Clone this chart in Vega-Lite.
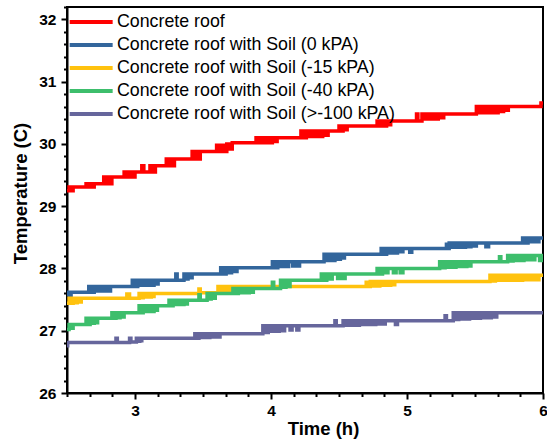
{
"$schema": "https://vega.github.io/schema/vega-lite/v6.json",
"width": 476, "height": 386,
"autosize": {"type": "none"},
"padding": {"left": 67, "top": 7, "right": 4, "bottom": 46},
"background": "white",
"config": {"view": {"stroke": "black", "strokeWidth": 2}, "font": "Liberation Sans"},
"data": {"values": [
{"s":"a","t":2.5,"v":29.25},{"s":"a","t":2.515,"v":29.31},{"s":"a","t":2.53,"v":29.25},{"s":"a","t":2.545,"v":29.31},
{"s":"a","t":2.64,"v":29.36},{"s":"a","t":2.655,"v":29.31},{"s":"a","t":2.67,"v":29.36},{"s":"a","t":2.685,"v":29.31},{"s":"a","t":2.7,"v":29.36},
{"s":"a","t":2.77,"v":29.47},{"s":"a","t":2.785,"v":29.36},{"s":"a","t":2.8,"v":29.47},{"s":"a","t":2.815,"v":29.36},{"s":"a","t":2.83,"v":29.47},
{"s":"a","t":2.92,"v":29.55},{"s":"a","t":2.94,"v":29.47},{"s":"a","t":2.96,"v":29.55},{"s":"a","t":2.98,"v":29.47},{"s":"a","t":3.0,"v":29.55},
{"s":"a","t":3.05,"v":29.65},{"s":"a","t":3.065,"v":29.55},{"s":"a","t":3.11,"v":29.65},{"s":"a","t":3.13,"v":29.55},{"s":"a","t":3.15,"v":29.65},
{"s":"a","t":3.23,"v":29.76},{"s":"a","t":3.245,"v":29.65},{"s":"a","t":3.26,"v":29.76},{"s":"a","t":3.275,"v":29.65},{"s":"a","t":3.29,"v":29.76},
{"s":"a","t":3.42,"v":29.88},{"s":"a","t":3.435,"v":29.76},{"s":"a","t":3.45,"v":29.88},{"s":"a","t":3.465,"v":29.76},{"s":"a","t":3.48,"v":29.88},
{"s":"a","t":3.6,"v":29.98},{"s":"a","t":3.615,"v":29.88},{"s":"a","t":3.635,"v":29.98},{"s":"a","t":3.655,"v":29.88},{"s":"a","t":3.675,"v":30.0},{"s":"a","t":3.695,"v":29.92},{"s":"a","t":3.715,"v":30.02},
{"s":"a","t":3.89,"v":30.1},{"s":"a","t":3.91,"v":30.02},{"s":"a","t":3.93,"v":30.1},{"s":"a","t":3.95,"v":30.02},{"s":"a","t":3.97,"v":30.1},{"s":"a","t":3.99,"v":30.02},{"s":"a","t":4.01,"v":30.1},{"s":"a","t":4.03,"v":30.04},{"s":"a","t":4.045,"v":30.1},
{"s":"a","t":4.22,"v":30.21},{"s":"a","t":4.24,"v":30.1},{"s":"a","t":4.26,"v":30.21},{"s":"a","t":4.28,"v":30.12},{"s":"a","t":4.3,"v":30.21},{"s":"a","t":4.32,"v":30.12},{"s":"a","t":4.34,"v":30.21},{"s":"a","t":4.36,"v":30.12},{"s":"a","t":4.38,"v":30.21},{"s":"a","t":4.4,"v":30.14},{"s":"a","t":4.42,"v":30.21},
{"s":"a","t":4.5,"v":30.29},{"s":"a","t":4.515,"v":30.21},{"s":"a","t":4.53,"v":30.29},{"s":"a","t":4.545,"v":30.23},{"s":"a","t":4.56,"v":30.29},
{"s":"a","t":4.78,"v":30.37},{"s":"a","t":4.795,"v":30.29},{"s":"a","t":4.81,"v":30.37},{"s":"a","t":4.83,"v":30.29},{"s":"a","t":4.85,"v":30.37},{"s":"a","t":4.865,"v":30.31},{"s":"a","t":4.88,"v":30.37},
{"s":"a","t":5.07,"v":30.48},{"s":"a","t":5.08,"v":30.37},{"s":"a","t":5.11,"v":30.48},{"s":"a","t":5.13,"v":30.4},{"s":"a","t":5.15,"v":30.48},{"s":"a","t":5.17,"v":30.4},{"s":"a","t":5.19,"v":30.48},{"s":"a","t":5.21,"v":30.4},{"s":"a","t":5.23,"v":30.48},{"s":"a","t":5.25,"v":30.42},{"s":"a","t":5.27,"v":30.48},
{"s":"a","t":5.51,"v":30.6},{"s":"a","t":5.53,"v":30.5},{"s":"a","t":5.55,"v":30.6},{"s":"a","t":5.57,"v":30.5},{"s":"a","t":5.59,"v":30.6},{"s":"a","t":5.61,"v":30.5},{"s":"a","t":5.63,"v":30.6},{"s":"a","t":5.65,"v":30.5},{"s":"a","t":5.67,"v":30.6},{"s":"a","t":5.69,"v":30.52},{"s":"a","t":5.71,"v":30.6},{"s":"a","t":5.73,"v":30.54},{"s":"a","t":5.745,"v":30.6},{"s":"a","t":5.985,"v":30.66},{"s":"a","t":6.0,"v":30.66},

{"s":"b","t":2.5,"v":27.58},{"s":"b","t":2.51,"v":27.62},{"s":"b","t":2.52,"v":27.56},{"s":"b","t":2.53,"v":27.62},
{"s":"b","t":2.66,"v":27.71},{"s":"b","t":2.68,"v":27.62},{"s":"b","t":2.7,"v":27.71},{"s":"b","t":2.72,"v":27.64},{"s":"b","t":2.74,"v":27.71},{"s":"b","t":2.76,"v":27.64},{"s":"b","t":2.78,"v":27.71},{"s":"b","t":2.8,"v":27.64},{"s":"b","t":2.82,"v":27.71},
{"s":"b","t":2.98,"v":27.81},{"s":"b","t":3.0,"v":27.71},{"s":"b","t":3.02,"v":27.81},{"s":"b","t":3.04,"v":27.73},{"s":"b","t":3.06,"v":27.81},{"s":"b","t":3.08,"v":27.73},{"s":"b","t":3.1,"v":27.81},{"s":"b","t":3.12,"v":27.73},{"s":"b","t":3.14,"v":27.81},{"s":"b","t":3.16,"v":27.75},{"s":"b","t":3.17,"v":27.81},
{"s":"b","t":3.3,"v":27.91},{"s":"b","t":3.31,"v":27.81},{"s":"b","t":3.36,"v":27.91},{"s":"b","t":3.375,"v":27.83},{"s":"b","t":3.39,"v":27.91},{"s":"b","t":3.405,"v":27.85},{"s":"b","t":3.42,"v":27.91},
{"s":"b","t":3.63,"v":28.01},{"s":"b","t":3.65,"v":27.91},{"s":"b","t":3.67,"v":28.01},{"s":"b","t":3.69,"v":27.93},{"s":"b","t":3.71,"v":28.01},{"s":"b","t":3.73,"v":27.95},{"s":"b","t":3.75,"v":28.01},
{"s":"b","t":4.01,"v":28.11},{"s":"b","t":4.03,"v":28.01},{"s":"b","t":4.05,"v":28.11},{"s":"b","t":4.07,"v":28.03},{"s":"b","t":4.09,"v":28.11},{"s":"b","t":4.11,"v":28.03},{"s":"b","t":4.13,"v":28.11},{"s":"b","t":4.16,"v":28.04},{"s":"b","t":4.18,"v":28.11},{"s":"b","t":4.2,"v":28.04},{"s":"b","t":4.21,"v":28.11},
{"s":"b","t":4.39,"v":28.23},{"s":"b","t":4.41,"v":28.13},{"s":"b","t":4.43,"v":28.23},{"s":"b","t":4.45,"v":28.13},{"s":"b","t":4.47,"v":28.23},{"s":"b","t":4.49,"v":28.15},{"s":"b","t":4.51,"v":28.23},{"s":"b","t":4.53,"v":28.17},{"s":"b","t":4.54,"v":28.23},
{"s":"b","t":4.81,"v":28.32},{"s":"b","t":4.83,"v":28.23},{"s":"b","t":4.85,"v":28.32},{"s":"b","t":4.87,"v":28.25},{"s":"b","t":4.89,"v":28.32},{"s":"b","t":4.91,"v":28.25},{"s":"b","t":4.93,"v":28.32},{"s":"b","t":4.95,"v":28.27},{"s":"b","t":4.97,"v":28.32},{"s":"b","t":5.02,"v":28.26},{"s":"b","t":5.035,"v":28.32},
{"s":"b","t":5.29,"v":28.39},{"s":"b","t":5.3,"v":28.32},{"s":"b","t":5.31,"v":28.41},{"s":"b","t":5.33,"v":28.34},{"s":"b","t":5.35,"v":28.41},{"s":"b","t":5.37,"v":28.34},{"s":"b","t":5.39,"v":28.41},{"s":"b","t":5.41,"v":28.34},{"s":"b","t":5.43,"v":28.41},{"s":"b","t":5.45,"v":28.35},{"s":"b","t":5.47,"v":28.41},{"s":"b","t":5.49,"v":28.36},{"s":"b","t":5.51,"v":28.41},{"s":"b","t":5.58,"v":28.35},{"s":"b","t":5.6,"v":28.41},
{"s":"b","t":5.85,"v":28.49},{"s":"b","t":5.87,"v":28.41},{"s":"b","t":5.89,"v":28.49},{"s":"b","t":5.91,"v":28.43},{"s":"b","t":5.93,"v":28.49},{"s":"b","t":5.95,"v":28.43},{"s":"b","t":5.97,"v":28.49},{"s":"b","t":6.0,"v":28.49},

{"s":"c","t":2.5,"v":27.44},{"s":"c","t":2.515,"v":27.52},{"s":"c","t":2.53,"v":27.44},{"s":"c","t":2.545,"v":27.52},{"s":"c","t":2.56,"v":27.45},{"s":"c","t":2.575,"v":27.52},{"s":"c","t":2.59,"v":27.46},{"s":"c","t":2.605,"v":27.52},
{"s":"c","t":2.94,"v":27.59},{"s":"c","t":2.96,"v":27.52},{"s":"c","t":3.03,"v":27.6},{"s":"c","t":3.045,"v":27.53},{"s":"c","t":3.06,"v":27.6},{"s":"c","t":3.075,"v":27.54},{"s":"c","t":3.09,"v":27.6},{"s":"c","t":3.105,"v":27.54},{"s":"c","t":3.12,"v":27.6},{"s":"c","t":3.13,"v":27.55},{"s":"c","t":3.14,"v":27.6},
{"s":"c","t":3.47,"v":27.67},{"s":"c","t":3.48,"v":27.61},
{"s":"c","t":3.61,"v":27.71},{"s":"c","t":3.625,"v":27.62},{"s":"c","t":3.64,"v":27.71},{"s":"c","t":3.655,"v":27.63},{"s":"c","t":3.67,"v":27.71},{"s":"c","t":3.685,"v":27.64},{"s":"c","t":3.7,"v":27.71},{"s":"c","t":3.715,"v":27.65},{"s":"c","t":3.725,"v":27.71},
{"s":"c","t":4.7,"v":27.78},{"s":"c","t":4.71,"v":27.71},{"s":"c","t":4.73,"v":27.79},{"s":"c","t":4.745,"v":27.72},{"s":"c","t":4.76,"v":27.79},{"s":"c","t":4.78,"v":27.72},{"s":"c","t":4.8,"v":27.79},{"s":"c","t":4.82,"v":27.73},{"s":"c","t":4.84,"v":27.79},{"s":"c","t":4.86,"v":27.73},{"s":"c","t":4.88,"v":27.79},{"s":"c","t":4.9,"v":27.74},{"s":"c","t":4.91,"v":27.79},
{"s":"c","t":5.61,"v":27.89},{"s":"c","t":5.63,"v":27.8},{"s":"c","t":5.65,"v":27.89},{"s":"c","t":5.67,"v":27.81},{"s":"c","t":5.69,"v":27.89},{"s":"c","t":5.71,"v":27.81},{"s":"c","t":5.73,"v":27.89},{"s":"c","t":5.75,"v":27.81},{"s":"c","t":5.77,"v":27.89},{"s":"c","t":5.79,"v":27.81},{"s":"c","t":5.81,"v":27.89},{"s":"c","t":5.83,"v":27.81},{"s":"c","t":5.85,"v":27.89},{"s":"c","t":5.87,"v":27.82},{"s":"c","t":5.89,"v":27.89},{"s":"c","t":5.91,"v":27.82},{"s":"c","t":5.93,"v":27.89},{"s":"c","t":5.95,"v":27.82},{"s":"c","t":5.97,"v":27.89},{"s":"c","t":6.0,"v":27.89},

{"s":"d","t":2.5,"v":27.02},{"s":"d","t":2.515,"v":27.1},{"s":"d","t":2.53,"v":27.04},{"s":"d","t":2.545,"v":27.1},
{"s":"d","t":2.64,"v":27.2},{"s":"d","t":2.655,"v":27.1},{"s":"d","t":2.67,"v":27.2},{"s":"d","t":2.685,"v":27.12},{"s":"d","t":2.7,"v":27.2},{"s":"d","t":2.715,"v":27.13},{"s":"d","t":2.725,"v":27.2},
{"s":"d","t":2.83,"v":27.29},{"s":"d","t":2.845,"v":27.2},{"s":"d","t":2.86,"v":27.29},{"s":"d","t":2.875,"v":27.21},{"s":"d","t":2.89,"v":27.29},{"s":"d","t":2.905,"v":27.22},{"s":"d","t":2.92,"v":27.29},
{"s":"d","t":3.03,"v":27.4},{"s":"d","t":3.045,"v":27.29},{"s":"d","t":3.06,"v":27.4},{"s":"d","t":3.08,"v":27.31},{"s":"d","t":3.1,"v":27.4},{"s":"d","t":3.12,"v":27.31},{"s":"d","t":3.14,"v":27.4},{"s":"d","t":3.155,"v":27.33},{"s":"d","t":3.165,"v":27.4},
{"s":"d","t":3.25,"v":27.49},{"s":"d","t":3.265,"v":27.4},{"s":"d","t":3.28,"v":27.49},{"s":"d","t":3.3,"v":27.42},{"s":"d","t":3.32,"v":27.49},{"s":"d","t":3.34,"v":27.42},{"s":"d","t":3.36,"v":27.49},{"s":"d","t":3.375,"v":27.43},{"s":"d","t":3.385,"v":27.49},
{"s":"d","t":3.47,"v":27.58},{"s":"d","t":3.48,"v":27.49},{"s":"d","t":3.53,"v":27.6},{"s":"d","t":3.545,"v":27.51},{"s":"d","t":3.56,"v":27.6},{"s":"d","t":3.575,"v":27.52},{"s":"d","t":3.59,"v":27.6},
{"s":"d","t":3.72,"v":27.68},{"s":"d","t":3.74,"v":27.6},{"s":"d","t":3.76,"v":27.68},{"s":"d","t":3.78,"v":27.61},{"s":"d","t":3.8,"v":27.68},{"s":"d","t":3.82,"v":27.61},{"s":"d","t":3.84,"v":27.68},{"s":"d","t":3.86,"v":27.62},{"s":"d","t":3.87,"v":27.68},
{"s":"d","t":4.01,"v":27.78},{"s":"d","t":4.02,"v":27.68},{"s":"d","t":4.07,"v":27.81},{"s":"d","t":4.09,"v":27.7},{"s":"d","t":4.11,"v":27.81},{"s":"d","t":4.13,"v":27.71},{"s":"d","t":4.14,"v":27.81},
{"s":"d","t":4.37,"v":27.91},{"s":"d","t":4.39,"v":27.81},{"s":"d","t":4.41,"v":27.91},{"s":"d","t":4.43,"v":27.83},{"s":"d","t":4.45,"v":27.91},{"s":"d","t":4.49,"v":27.84},{"s":"d","t":4.51,"v":27.91},{"s":"d","t":4.53,"v":27.84},{"s":"d","t":4.545,"v":27.91},
{"s":"d","t":4.78,"v":28.0},{"s":"d","t":4.8,"v":27.91},{"s":"d","t":4.82,"v":28.0},{"s":"d","t":4.84,"v":27.93},{"s":"d","t":4.86,"v":28.0},{"s":"d","t":4.9,"v":27.93},{"s":"d","t":4.92,"v":28.0},{"s":"d","t":4.95,"v":27.93},{"s":"d","t":4.97,"v":28.0},
{"s":"d","t":5.24,"v":28.11},{"s":"d","t":5.26,"v":28.01},{"s":"d","t":5.28,"v":28.11},{"s":"d","t":5.3,"v":28.02},{"s":"d","t":5.32,"v":28.11},{"s":"d","t":5.34,"v":28.02},{"s":"d","t":5.36,"v":28.11},{"s":"d","t":5.38,"v":28.03},{"s":"d","t":5.4,"v":28.11},{"s":"d","t":5.42,"v":28.03},{"s":"d","t":5.44,"v":28.11},{"s":"d","t":5.46,"v":28.04},{"s":"d","t":5.47,"v":28.11},
{"s":"d","t":5.68,"v":28.19},{"s":"d","t":5.69,"v":28.11},{"s":"d","t":5.74,"v":28.21},{"s":"d","t":5.76,"v":28.12},{"s":"d","t":5.78,"v":28.21},{"s":"d","t":5.8,"v":28.13},{"s":"d","t":5.82,"v":28.21},{"s":"d","t":5.84,"v":28.13},{"s":"d","t":5.86,"v":28.21},{"s":"d","t":5.88,"v":28.14},{"s":"d","t":5.9,"v":28.21},{"s":"d","t":5.92,"v":28.14},{"s":"d","t":5.94,"v":28.21},{"s":"d","t":5.975,"v":28.13},{"s":"d","t":5.99,"v":28.21},{"s":"d","t":6.0,"v":28.21},

{"s":"e","t":2.5,"v":26.76},{"s":"e","t":2.505,"v":26.81},
{"s":"e","t":2.86,"v":26.88},{"s":"e","t":2.87,"v":26.81},{"s":"e","t":2.96,"v":26.88},{"s":"e","t":2.97,"v":26.82},{"s":"e","t":3.01,"v":26.88},{"s":"e","t":3.02,"v":26.83},{"s":"e","t":3.035,"v":26.88},{"s":"e","t":3.045,"v":26.84},{"s":"e","t":3.05,"v":26.88},
{"s":"e","t":3.44,"v":26.95},{"s":"e","t":3.455,"v":26.88},{"s":"e","t":3.47,"v":26.95},{"s":"e","t":3.49,"v":26.89},{"s":"e","t":3.51,"v":26.95},{"s":"e","t":3.53,"v":26.89},{"s":"e","t":3.55,"v":26.95},{"s":"e","t":3.57,"v":26.9},{"s":"e","t":3.59,"v":26.95},{"s":"e","t":3.61,"v":26.9},{"s":"e","t":3.625,"v":26.95},
{"s":"e","t":3.94,"v":27.08},{"s":"e","t":3.96,"v":26.97},{"s":"e","t":3.98,"v":27.08},{"s":"e","t":4.0,"v":26.99},{"s":"e","t":4.02,"v":27.08},{"s":"e","t":4.04,"v":26.99},{"s":"e","t":4.06,"v":27.08},{"s":"e","t":4.08,"v":27.0},{"s":"e","t":4.1,"v":27.08},{"s":"e","t":4.14,"v":27.01},{"s":"e","t":4.155,"v":27.08},{"s":"e","t":4.19,"v":27.01},{"s":"e","t":4.205,"v":27.08},
{"s":"e","t":4.47,"v":27.16},{"s":"e","t":4.48,"v":27.08},{"s":"e","t":4.53,"v":27.16},{"s":"e","t":4.55,"v":27.09},{"s":"e","t":4.57,"v":27.16},{"s":"e","t":4.59,"v":27.09},{"s":"e","t":4.61,"v":27.16},{"s":"e","t":4.63,"v":27.09},{"s":"e","t":4.65,"v":27.16},{"s":"e","t":4.67,"v":27.1},{"s":"e","t":4.69,"v":27.16},{"s":"e","t":4.71,"v":27.1},{"s":"e","t":4.73,"v":27.16},{"s":"e","t":4.75,"v":27.1},{"s":"e","t":4.77,"v":27.16},{"s":"e","t":4.79,"v":27.11},{"s":"e","t":4.81,"v":27.16},{"s":"e","t":4.83,"v":27.11},{"s":"e","t":4.84,"v":27.16},{"s":"e","t":4.915,"v":27.1},{"s":"e","t":4.93,"v":27.16},
{"s":"e","t":5.28,"v":27.24},{"s":"e","t":5.29,"v":27.16},{"s":"e","t":5.34,"v":27.29},{"s":"e","t":5.36,"v":27.18},{"s":"e","t":5.38,"v":27.29},{"s":"e","t":5.4,"v":27.19},{"s":"e","t":5.42,"v":27.29},{"s":"e","t":5.44,"v":27.19},{"s":"e","t":5.46,"v":27.29},{"s":"e","t":5.48,"v":27.2},{"s":"e","t":5.5,"v":27.29},{"s":"e","t":5.52,"v":27.2},{"s":"e","t":5.54,"v":27.29},{"s":"e","t":5.56,"v":27.21},{"s":"e","t":5.58,"v":27.29},{"s":"e","t":5.6,"v":27.21},{"s":"e","t":5.62,"v":27.29},{"s":"e","t":5.64,"v":27.22},{"s":"e","t":5.66,"v":27.29},{"s":"e","t":6.0,"v":27.3}
]},
"mark": {"type": "line", "interpolate": "step-after", "strokeWidth": 3.5, "clip": true},
"encoding": {
  "x": {"field": "t", "type": "quantitative",
    "scale": {"domain": [2.5, 6], "nice": false, "zero": false},
    "axis": {"title": "Time (h)", "grid": false, "titleX": 256,
      "values": [2.5, 2.6667, 2.8333, 3, 3.1667, 3.3333, 3.5, 3.6667, 3.8333, 4, 4.1667, 4.3333, 4.5, 4.6667, 4.8333, 5, 5.1667, 5.3333, 5.5, 5.6667, 5.8333, 6],
      "labelExpr": "datum.value % 1 === 0 ? format(datum.value, 'd') : ''",
      "labelOverlap": false, "labelBound": false, "labelFlush": false,
      "tickSize": {"condition": {"test": "datum.value % 1 === 0", "value": 6}, "value": 3.5},
      "tickWidth": 2, "tickColor": "black", "domainColor": "black", "domainWidth": 2,
      "labelFont": "Liberation Sans", "labelFontWeight": "bold", "labelFontSize": 15.5, "labelColor": "black", "labelPadding": 4,
      "titleFont": "Liberation Sans", "titleFontWeight": "bold", "titleFontSize": 18.5, "titleColor": "black", "titlePadding": 1}},
  "y": {"field": "v", "type": "quantitative",
    "scale": {"domain": [26, 32.2], "nice": false, "zero": false},
    "axis": {"title": "Temperature (C)", "grid": false, "titleY": 186,
      "values": [26, 26.2, 26.4, 26.6, 26.8, 27, 27.2, 27.4, 27.6, 27.8, 28, 28.2, 28.4, 28.6, 28.8, 29, 29.2, 29.4, 29.6, 29.8, 30, 30.2, 30.4, 30.6, 30.8, 31, 31.2, 31.4, 31.6, 31.8, 32, 32.2],
      "labelExpr": "datum.value % 1 === 0 ? format(datum.value, 'd') : ''",
      "labelOverlap": false, "labelBound": false, "labelFlush": false,
      "tickSize": {"condition": {"test": "datum.value % 1 === 0", "value": 6}, "value": 3.5},
      "tickWidth": 2, "tickColor": "black", "domainColor": "black", "domainWidth": 2,
      "labelFont": "Liberation Sans", "labelFontWeight": "bold", "labelFontSize": 15.5, "labelColor": "black", "labelPadding": 5,
      "titleFont": "Liberation Sans", "titleFontWeight": "bold", "titleFontSize": 18.5, "titleColor": "black", "titlePadding": 8}},
  "color": {"field": "s", "type": "nominal",
    "scale": {"domain": ["a", "b", "c", "d", "e"], "range": ["#FF0000", "#33669C", "#FFC20E", "#3DBE6C", "#66669C"]},
    "legend": {"orient": "none", "legendX": 29, "legendY": 5.5, "title": null, "padding": 0,
      "symbolType": "M-5,0H1", "symbolSize": 205, "symbolStrokeWidth": 4,
      "labelFont": "Liberation Sans", "labelFontSize": 17.8, "labelColor": "black", "labelOffset": 2, "rowPadding": 4, "labelLimit": 0,
      "labelExpr": "datum.label === 'a' ? 'Concrete roof' : datum.label === 'b' ? 'Concrete roof with Soil (0 kPA)' : datum.label === 'c' ? 'Concrete roof with Soil (-15 kPA)' : datum.label === 'd' ? 'Concrete roof with Soil (-40 kPA)' : 'Concrete roof with Soil (>-100 kPA)'"}}
}
}
